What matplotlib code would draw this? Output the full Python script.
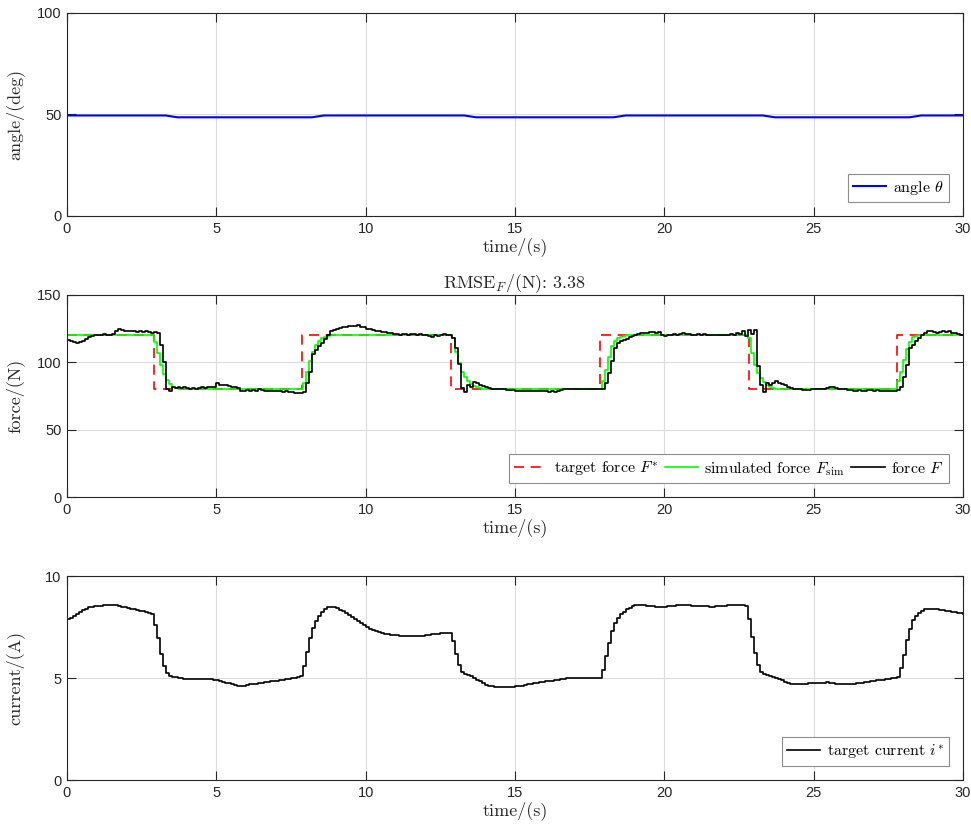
import matplotlib.pyplot as plt
import numpy as np

plt.rcParams['font.family'] = 'Liberation Sans'
plt.rcParams['mathtext.fontset'] = 'cm'

# sample times (0.1 s)
t = np.round(np.arange(301) * 0.1, 1)

# joint angle (deg), breakpoints
angle_t = [0, 3.3, 3.7, 8.2, 8.6, 13.3, 13.7, 18.3, 18.7, 23.3, 23.7, 28.2, 28.6, 30]
angle_deg = [49.5, 49.5, 48.6, 48.6, 49.5, 49.5, 48.6, 48.6, 49.5, 49.5, 48.6, 48.6, 49.5, 49.5]

# target force F* (N)
target_t = [0, 2.9, 7.87, 12.85, 17.86, 22.83, 27.8, 30]
target_force = [120, 80, 120, 80, 120, 80, 120, 120]

# simulated force F_sim (N), one row per second
sim_force = (
    [120] * 10 +
    [120] * 10 +
    [120] * 9 + [115] +
    [107, 98, 91, 87, 84, 82, 81, 80.5, 80, 80] +
    [80] * 30 +
    [80] * 9 + [85] +
    [93, 101, 108, 113, 116, 118, 119, 119.5, 120, 120] +
    [120] * 30 +
    [120] * 9 + [118] +
    [108, 99.5, 93, 89, 86, 84, 82.5, 81.5, 81, 80.5] +
    [80] * 30 +
    [80] * 9 + [86] +
    [94, 104, 112, 116, 118, 119, 119.5, 120, 120, 120] +
    [120] * 30 +
    [120] * 8 + [118, 107] +
    [98, 92, 88, 85.5, 83.5, 82, 81, 80.5, 80, 80] +
    [80] * 30 +
    [80] * 8 + [86, 93] +
    [102, 110, 115, 118.5, 119.5, 120, 120, 120, 120, 120] +
    [120] * 10 +
    [120]
)

# measured force F (N)
force = [
    116.5, 116, 115, 114.5, 115, 116, 117, 118.5, 119.5, 120,
    120.5, 120, 121, 120.5, 120, 121, 123.5, 124.5, 124, 123.5,
    123.5, 123, 123.5, 122.5, 123, 122.5, 123, 122.5, 122, 122.5,
    122, 113, 100, 80, 78.5, 82, 81, 82, 81, 81.5,
    81, 80.5, 81, 80.5, 81, 81.5, 81, 82, 81.5, 82,
    84.5, 83, 83.5, 83, 82.5, 82, 81.5, 81, 78.5, 79,
    79.5, 79, 79.5, 79, 80, 79.5, 79, 78.5, 79, 78.5,
    79, 78.5, 78, 78.5, 78, 78, 77.5, 77.5, 77, 78,
    85, 93, 106, 109, 112, 114, 117, 120, 123, 124,
    125, 125.5, 126, 126.5, 127, 127, 127, 127.5, 126.5, 126,
    125, 124.5, 124, 123.5, 123, 122.5, 122.5, 122, 121.5, 121,
    121, 120.5, 121, 121, 120.5, 121, 121, 120.5, 121, 120.5,
    120, 119.5, 119, 120, 119.5, 120.5, 121, 120.5, 120.5, 118,
    111, 98.5, 81, 78, 83.5, 82, 85.5, 84.5, 83.5, 82.5,
    81.5, 81, 80.5, 80.5, 80, 80, 80, 79.5, 79.5, 79.5,
    79, 79, 78.5, 78.5, 79, 78.5, 78.5, 79, 78.5, 78.5,
    78.5, 78, 78.5, 78, 79, 79.5, 80, 80, 80.5, 80,
    80, 80.5, 80, 80.5, 80, 80, 80.5, 80, 80.5, 80.5,
    84.5, 92, 101, 110.5, 114, 115.5, 116.5, 117.5, 118.5, 119.5,
    120.5, 121, 121.5, 122, 122, 122.5, 122.5, 122, 122.5, 120.5,
    119.5, 120, 120.5, 121, 120.5, 121, 121.5, 121, 121, 120.5,
    120.5, 121, 120.5, 121, 120, 120.5, 120, 120, 120.5, 120,
    120, 120.5, 121, 120.5, 121.5, 121, 123, 119.5, 124, 121,
    124, 97, 83, 78, 84.5, 83.5, 85, 86, 85, 84,
    83, 82, 81, 80.5, 80, 80, 79.5, 79.5, 79.5, 80,
    80, 80, 80.5, 80.5, 81, 81.5, 81.5, 81, 80.5, 80,
    80, 79.5, 79.5, 79, 79, 79.5, 79, 79, 79.5, 79.5,
    79, 79.5, 79, 79, 79, 78.5, 78.5, 79, 79.5, 82,
    89, 98, 110.5, 113, 116, 118, 120.5, 121.5, 123, 123,
    122.5, 122, 122.5, 123, 122.5, 123, 122, 121.5, 121, 120.5,
    120.5,
]

# target current i* (A)
current = [
    7.9, 7.95, 8.05, 8.15, 8.25, 8.33, 8.4, 8.46, 8.5, 8.52,
    8.54, 8.55, 8.56, 8.57, 8.58, 8.58, 8.56, 8.53, 8.5, 8.47,
    8.43, 8.4, 8.37, 8.33, 8.3, 8.27, 8.24, 8.2, 8.16, 7.6,
    6.95, 6.2, 5.6, 5.23, 5.1, 5.06, 5.03, 5.0, 4.98, 4.97,
    4.96, 4.96, 4.95, 4.95, 4.96, 4.97, 4.97, 4.96, 4.94, 4.92,
    4.9, 4.86, 4.82, 4.78, 4.74, 4.7, 4.66, 4.62, 4.6, 4.63,
    4.66, 4.69, 4.71, 4.73, 4.75, 4.77, 4.79, 4.81, 4.83, 4.85,
    4.87, 4.89, 4.91, 4.93, 4.96, 4.98, 5.01, 5.05, 5.1, 5.6,
    6.3, 6.95, 7.45, 7.8, 8.05, 8.25, 8.38, 8.47, 8.5, 8.48,
    8.42, 8.35, 8.27, 8.18, 8.09, 7.99, 7.89, 7.79, 7.68, 7.58,
    7.5, 7.42, 7.35, 7.29, 7.24, 7.2, 7.17, 7.14, 7.12, 7.1,
    7.09, 7.08, 7.07, 7.06, 7.05, 7.04, 7.04, 7.04, 7.05, 7.07,
    7.1, 7.13, 7.15, 7.17, 7.18, 7.19, 7.19, 7.19, 7.2, 6.8,
    6.2, 5.65, 5.3, 5.2, 5.14, 5.08, 5.0, 4.92, 4.84, 4.76,
    4.68, 4.63, 4.6, 4.58, 4.57, 4.57, 4.57, 4.57, 4.57, 4.58,
    4.59, 4.61, 4.63, 4.66, 4.69, 4.72, 4.75, 4.78, 4.8, 4.82,
    4.83, 4.84, 4.86, 4.88, 4.9, 4.93, 4.96, 4.98, 4.99, 5.0,
    5.0, 5.0, 5.0, 5.01, 5.01, 5.01, 5.01, 5.02, 5.02, 5.4,
    6.08, 6.73, 7.32, 7.68, 7.93, 8.12, 8.25, 8.37, 8.45, 8.52,
    8.56, 8.58, 8.58, 8.57, 8.55, 8.53, 8.51, 8.49, 8.47, 8.46,
    8.48, 8.51, 8.53, 8.55, 8.56, 8.56, 8.56, 8.56, 8.56, 8.55,
    8.55, 8.54, 8.53, 8.52, 8.51, 8.5, 8.5, 8.51, 8.53, 8.54,
    8.55, 8.56, 8.56, 8.57, 8.58, 8.59, 8.59, 8.55, 7.88, 7.03,
    6.21, 5.64, 5.31, 5.22, 5.17, 5.12, 5.07, 5.02, 4.96, 4.88,
    4.8, 4.74, 4.7, 4.69, 4.7, 4.71, 4.72, 4.73, 4.74, 4.75,
    4.76, 4.77, 4.78, 4.78, 4.79, 4.78, 4.76, 4.73, 4.71, 4.7,
    4.69, 4.69, 4.7, 4.72, 4.74, 4.76, 4.78, 4.8, 4.82, 4.84,
    4.86, 4.88, 4.9, 4.92, 4.94, 4.96, 4.98, 5.0, 5.03, 5.47,
    6.13, 6.86, 7.39, 7.84, 8.04, 8.2, 8.3, 8.37, 8.4, 8.4,
    8.38, 8.36, 8.34, 8.32, 8.3, 8.28, 8.26, 8.23, 8.2, 8.17,
    8.15,
]

dark = '#262626'
serif = 'cmr10'
lab_fs = 13
leg_fs = 11.5


def style(ax, ymax, yticks):
    ax.set_xlim(0, 30)
    ax.set_ylim(0, ymax)
    ax.set_xticks([0, 5, 10, 15, 20, 25, 30])
    ax.set_yticks(yticks)
    ax.grid(True, color='#dcdcdc', linewidth=0.8)
    ax.set_axisbelow(True)
    ax.tick_params(direction='in', length=6.5, width=0.8, top=True, right=True,
                   labelsize=10.5, colors=dark, pad=4)
    for s in ax.spines.values():
        s.set_color(dark)
        s.set_linewidth(0.8)
    ax.set_xlabel('time/(s)', fontfamily=serif, fontsize=lab_fs, color=dark, labelpad=1)


def legend(ax, **kw):
    leg = ax.legend(loc='lower right', prop={'family': serif, 'size': leg_fs},
                    fancybox=False, framealpha=1, edgecolor='#8c8c8c',
                    borderaxespad=0.9, handlelength=2.1, handletextpad=0.4,
                    borderpad=0.3, **kw)
    leg.get_frame().set_linewidth(0.8)
    return leg


fig = plt.figure(figsize=(9.71, 8.30), dpi=100)
ax1 = fig.add_axes([0.069, 0.7398, 0.9228, 0.2446])
ax2 = fig.add_axes([0.069, 0.4012, 0.9228, 0.2434])
ax3 = fig.add_axes([0.069, 0.0602, 0.9228, 0.2458])

# angle
ax1.plot(angle_t, angle_deg, color='blue', linewidth=1.5, label=r'angle $\theta$')
style(ax1, 100, [0, 50, 100])
ax1.set_ylabel('angle/(deg)', fontfamily=serif, fontsize=lab_fs, color=dark, labelpad=9)
legend(ax1)

# force
ax2.step(target_t, target_force, where='post', color='red', linewidth=1.2,
         dashes=(6, 4), label=r'target force $F^{*}$')
ax2.step(t, sim_force, where='post', color='#00ff00', linewidth=1.2,
         label=r'simulated force $F_{\mathrm{sim}}$')
ax2.step(t, force, where='post', color='black', linewidth=1.2, label=r'force $F$')
style(ax2, 150, [0, 50, 100, 150])
ax2.set_ylabel('force/(N)', fontfamily=serif, fontsize=lab_fs, color=dark, labelpad=9)
ax2.set_title(r'RMSE$_F$/(N): 3.38', fontfamily=serif, fontsize=lab_fs, color=dark, pad=5)
legend(ax2, ncol=3, columnspacing=0.4)

# current
ax3.step(t, current, where='post', color='black', linewidth=1.2,
         label=r'target current $i^{*}$')
style(ax3, 10, [0, 5, 10])
ax3.set_ylabel('current/(A)', fontfamily=serif, fontsize=lab_fs, color=dark, labelpad=15)
legend(ax3)

fig.savefig('out.png', dpi=100)
